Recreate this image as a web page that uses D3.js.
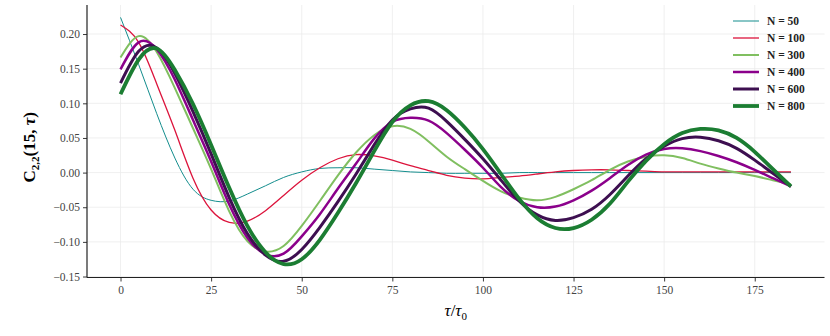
<!DOCTYPE html>
<html>
<head>
<meta charset="utf-8">
<script src="https://cdn.jsdelivr.net/npm/d3@7"></script>
<style>
  body { margin: 0; background: #fff; }
  svg text { font-family: "Liberation Serif", "DejaVu Serif", serif; }
</style>
</head>
<body>
<div id="chart"></div>
<script>
// tau / tau0 sample points
const tau = [0, 5, 10, 15, 20, 25, 30, 35, 40, 45, 50, 55, 60, 65, 70, 75, 80, 85, 90, 95,
  100, 105, 110, 115, 120, 125, 130, 135, 140, 145, 150, 155, 160, 165, 170, 175, 180, 185];

const n50 = [0.224, 0.156, 0.085, 0.021, -0.024, -0.040, -0.041, -0.031, -0.019, -0.007,
  0.001, 0.006, 0.007, 0.007, 0.005, 0.003, 0.001, 0.000, -0.001, -0.001,
  -0.001, -0.001, 0.000, 0.000, 0.000, 0.000, 0.000, 0.000, 0.000, 0.000,
  0.000, 0.000, 0.000, 0.000, 0.000, 0.000, 0.000, 0.000];
const n100 = [0.213, 0.188, 0.128, 0.061, -0.008, -0.054, -0.072, -0.070, -0.055, -0.033,
  -0.011, 0.007, 0.020, 0.026, 0.024, 0.018, 0.010, 0.003, -0.004, -0.008,
  -0.009, -0.007, -0.005, -0.002, 0.001, 0.003, 0.004, 0.004, 0.003, 0.002,
  0.001, 0.001, 0.001, 0.001, 0.001, 0.001, 0.001, 0.001];
const n300 = [0.166, 0.197, 0.174, 0.122, 0.064, 0.005, -0.056, -0.099, -0.114, -0.106,
  -0.077, -0.041, -0.004, 0.029, 0.054, 0.067, 0.063, 0.045, 0.023, 0.005,
  -0.012, -0.027, -0.036, -0.040, -0.035, -0.024, -0.011, 0.004, 0.016, 0.023,
  0.025, 0.021, 0.013, 0.006, 0.000, -0.005, -0.011, -0.017];
const n400 = [0.149, 0.188, 0.178, 0.134, 0.076, 0.016, -0.046, -0.094, -0.118, -0.117,
  -0.092, -0.060, -0.023, 0.013, 0.049, 0.073, 0.079, 0.075, 0.057, 0.033,
  0.007, -0.021, -0.041, -0.050, -0.049, -0.040, -0.026, -0.008, 0.011, 0.026,
  0.034, 0.035, 0.031, 0.024, 0.015, 0.004, -0.008, -0.020];
const n600 = [0.129, 0.175, 0.180, 0.143, 0.088, 0.027, -0.036, -0.088, -0.119, -0.128,
  -0.111, -0.079, -0.042, -0.002, 0.040, 0.076, 0.092, 0.093, 0.074, 0.048,
  0.020, -0.011, -0.041, -0.061, -0.069, -0.065, -0.053, -0.032, -0.005, 0.020,
  0.038, 0.049, 0.051, 0.046, 0.035, 0.018, -0.001, -0.020];
const n800 = [0.113, 0.163, 0.179, 0.148, 0.099, 0.040, -0.022, -0.077, -0.115, -0.132,
  -0.125, -0.097, -0.058, -0.015, 0.031, 0.073, 0.097, 0.103, 0.090, 0.065,
  0.034, -0.002, -0.038, -0.066, -0.080, -0.080, -0.068, -0.045, -0.013, 0.017,
  0.041, 0.057, 0.063, 0.061, 0.050, 0.030, 0.005, -0.020];

const labels = ["N = 50", "N = 100", "N = 300", "N = 400", "N = 600", "N = 800"];
const xTicks = [0, 25, 50, 75, 100, 125, 150, 175];
const yTicks = [-0.15, -0.10, -0.05, 0.00, 0.05, 0.10, 0.15, 0.20];

const series = [
  { name: labels[0], values: n50,  color: "#138d8d", width: 1.0 },
  { name: labels[1], values: n100, color: "#dc143c", width: 1.3 },
  { name: labels[2], values: n300, color: "#80bf60", width: 2.0 },
  { name: labels[3], values: n400, color: "#8b008b", width: 2.5 },
  { name: labels[4], values: n600, color: "#3d0f50", width: 3.0 },
  { name: labels[5], values: n800, color: "#1b7d32", width: 3.8 },
];

const W = 830, H = 336;
const pL = 87, pR = 824.5, pT = 5, pB = 277.5;

const svg = d3.select("#chart").append("svg")
  .attr("width", W).attr("height", H);

const x = d3.scaleLinear().domain([-9.25, 194.25]).range([pL, pR]);
const y = d3.scaleLinear().domain([-0.1514, 0.2419]).range([pB, pT]);

// grid
const grid = svg.append("g").attr("stroke", "#ebebeb").attr("stroke-width", 0.8);
grid.selectAll("line.gx").data(xTicks).join("line").attr("class", "gx")
  .attr("x1", d => x(d)).attr("x2", d => x(d)).attr("y1", pT).attr("y2", pB);
grid.selectAll("line.gy").data(yTicks).join("line").attr("class", "gy")
  .attr("x1", pL).attr("x2", pR).attr("y1", d => y(d)).attr("y2", d => y(d));

// curves (natural spline keeps them smooth between the 5-step samples)
const line = d3.line()
  .x((d, i) => x(tau[i]))
  .y(d => y(d))
  .curve(d3.curveNatural);

svg.append("g").attr("fill", "none")
  .selectAll("path").data(series).join("path")
  .attr("stroke", d => d.color)
  .attr("stroke-width", d => d.width)
  .attr("stroke-linejoin", "round")
  .attr("d", d => line(d.values));

// axes
const xAxis = svg.append("g").attr("transform", `translate(0,${pB})`)
  .call(d3.axisBottom(x).tickValues(xTicks).tickSize(4).tickPadding(4).tickFormat(d3.format("d")));
const yAxis = svg.append("g").attr("transform", `translate(${pL},0)`)
  .call(d3.axisLeft(y).tickValues(yTicks).tickSize(4).tickPadding(3).tickFormat(d3.format(".2f")));

[xAxis, yAxis].forEach(a => {
  a.select(".domain").attr("stroke", "#222").attr("stroke-width", 1.2);
  a.selectAll(".tick line").attr("stroke", "#222").attr("stroke-width", 0.9);
  a.selectAll(".tick text").attr("fill", "#444").style("font-size", "11.5px")
    .style("font-family", "'Liberation Serif', serif");
});
xAxis.select(".domain").attr("d", `M${pL},0H${pR}`);
yAxis.select(".domain").attr("d", `M0,${pT}V${pB}`);

// axis labels
svg.append("text")
  .attr("x", (pL + pR) / 2).attr("y", 316)
  .attr("text-anchor", "middle").style("font-size", "17px")
  .call(t => {
    t.append("tspan").style("font-style", "italic").text("τ");
    t.append("tspan").text("/");
    t.append("tspan").style("font-style", "italic").text("τ");
    t.append("tspan").attr("dy", 4).style("font-size", "11px").text("0");
  });

svg.append("text")
  .attr("transform", `translate(35,${(pT + pB) / 2 + 6}) rotate(-90)`)
  .attr("text-anchor", "middle").style("font-size", "17px").style("font-weight", "bold")
  .call(t => {
    t.append("tspan").text("C");
    t.append("tspan").attr("dy", 4).style("font-size", "11px").text("2,2");
    t.append("tspan").attr("dy", -4).text("(15, ");
    t.append("tspan").style("font-style", "italic").text("τ");
    t.append("tspan").text(")");
  });

// legend
const legend = svg.append("g").attr("transform", "translate(733,21)");
const item = legend.selectAll("g").data(series).join("g")
  .attr("transform", (d, i) => `translate(0,${i * 17})`);
item.append("line").attr("x1", 0).attr("x2", 26)
  .attr("stroke", d => d.color).attr("stroke-width", d => d.width);
item.append("text").attr("x", 34).attr("y", 4)
  .style("font-size", "11.5px").style("font-weight", "bold").attr("fill", "#222")
  .text(d => d.name);
</script>
</body>
</html>
